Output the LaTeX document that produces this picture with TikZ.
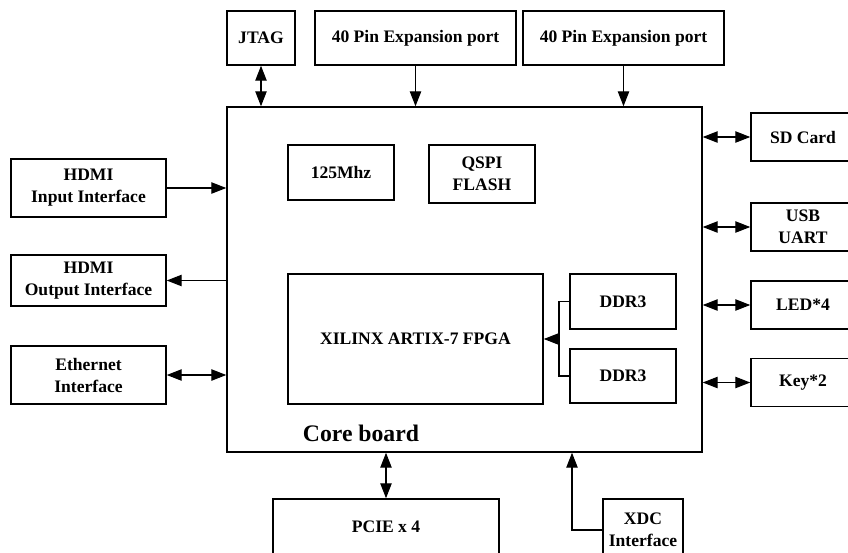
\documentclass[tikz,border=0pt]{standalone}
\usepackage{fontspec}
\setmainfont{Liberation Serif}
\usetikzlibrary{arrows.meta}

\begin{document}
\begin{tikzpicture}[x=0.02cm, y=-0.02cm, >={Triangle[length=8.5pt,width=6.5pt]},
    blk/.style={draw, line width=0.9pt, inner sep=0pt, align=center,
        font=\fontsize{10}{12.5}\selectfont\bfseries},
    link/.style={line width=0.6pt}]
    % Khung hình 848 x 552 (đơn vị: pixel)
    \useasboundingbox (0,0) rectangle (848,552);
    \clip (0,0) rectangle (848,552);

    % Core board
    \node[blk, minimum width=9.5cm, minimum height=6.9cm] (core) at (464.5,279.5) {};
    \node[font=\fontsize{13.5}{16}\selectfont\bfseries] (corelbl) at (361,433) {Core board};

    % Các khối bên trong
    \node[blk, minimum width=2.12cm, minimum height=1.1cm] (clk) at (341,172.5) {125Mhz};
    \node[blk, minimum width=2.12cm, minimum height=1.16cm] (qspi) at (482,174) {QSPI\\FLASH};
    \node[blk, minimum width=5.1cm, minimum height=2.6cm] (fpga) at (415.5,339) {XILINX ARTIX-7 FPGA};
    \node[blk, minimum width=2.12cm, minimum height=1.1cm] (ddra) at (623,301.5) {DDR3};
    \node[blk, minimum width=2.12cm, minimum height=1.08cm] (ddrb) at (623,376) {DDR3};

    % Phía trên
    \node[blk, minimum width=1.36cm, minimum height=1.08cm] (jtag) at (261,38) {JTAG};
    \node[blk, minimum width=4.02cm, minimum height=1.08cm] (pina) at (415.5,38) {40 Pin Expansion port};
    \node[blk, minimum width=4.02cm, minimum height=1.08cm] (pinb) at (623.5,38) {40 Pin Expansion port};

    % Bên trái
    \node[blk, minimum width=3.1cm, minimum height=1.16cm] (hdmiin) at (88.5,188) {HDMI\\Input Interface};
    \node[blk, minimum width=3.1cm, minimum height=1.02cm] (hdmiout) at (88.5,280.5) {HDMI\\Output Interface};
    \node[blk, minimum width=3.1cm, minimum height=1.16cm] (eth) at (88.5,375) {Ethernet\\Interface};

    % Bên phải
    \node[blk, minimum width=2.08cm, minimum height=0.96cm] (sd) at (803,137) {SD Card};
    \node[blk, minimum width=2.08cm, minimum height=0.96cm] (usb) at (803,227) {USB\\UART};
    \node[blk, minimum width=2.08cm, minimum height=0.96cm] (led) at (803,305) {LED*4};
    \node[blk, minimum width=2.08cm, minimum height=0.96cm] (key) at (803,382.5) {Key*2};

    % Phía dưới
    \node[blk, minimum width=4.52cm, minimum height=1.12cm] (pcie) at (386,527) {PCIE x 4};
    \node[blk, minimum width=1.6cm, minimum height=1.24cm] (xdc) at (643,530) {XDC\\Interface};

    % Điểm rẽ nhánh
    \coordinate (br) at (559,339);
    \coordinate (xdcin) at (572,0);

    % Đường nối
    \draw[link, <->] (jtag.south) -- (jtag.south |- core.north);
    \draw[link, ->] (pina.south) -- (pina.south |- core.north);
    \draw[link, ->] (pinb.south) -- (pinb.south |- core.north);

    \draw[link, ->] (hdmiin.east) -- (hdmiin.east -| core.west);
    \draw[link, ->] (hdmiout.east -| core.west) -- (hdmiout.east);
    \draw[link, <->] (eth.east) -- (eth.east -| core.west);

    \draw[link, <->] (sd.west -| core.east) -- (sd.west);
    \draw[link, <->] (usb.west -| core.east) -- (usb.west);
    \draw[link, <->] (led.west -| core.east) -- (led.west);
    \draw[link, <->] (key.west -| core.east) -- (key.west);

    \draw[link] (ddra.west) -| (br) |- (ddrb.west);
    \draw[link, ->] (br) -- (br -| fpga.east);

    \draw[link, <->] (pcie.north |- core.south) -- (pcie.north);
    \draw[link, ->] (xdc.west) -| (xdcin |- core.south);

\end{tikzpicture}
\end{document}
